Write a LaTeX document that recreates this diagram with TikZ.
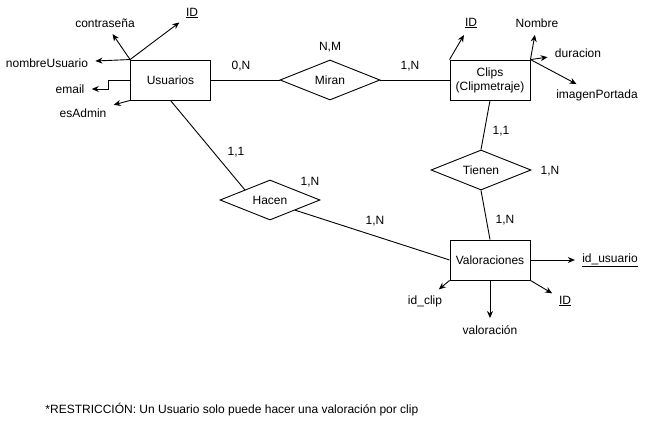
\documentclass[tikz,border=0pt]{standalone}
\usepackage{fontspec}
\setmainfont{Liberation Sans}
\usetikzlibrary{shapes.geometric,arrows.meta}

\begin{document}
\begin{tikzpicture}[x=1pt,y=-1pt,line width=0.9pt,
    font=\fontsize{12}{14}\selectfont,
    entity/.style={draw,minimum width=80pt,minimum height=40pt,inner sep=2pt,align=center},
    relation/.style={draw,diamond,minimum width=100pt,minimum height=40pt,inner sep=0pt,shape aspect=2.5},
    attr/.style={inner sep=3pt},
    card/.style={inner sep=1pt},
    toattr/.style={-{Stealth[length=7pt,width=6pt]},shorten >=4pt}]
  \useasboundingbox (0,0) rectangle (651,422);

  % entidades y relaciones
  \node[entity] (usuarios) at (170.5,80) {Usuarios};
  \node[entity] (clips) at (490,80) {Clips\\(Clipmetraje)};
  \node[entity] (valoraciones) at (490,260) {Valoraciones};
  \node[relation] (miran) at (330,80) {Miran};
  \node[relation] (tienen) at (481,170) {Tienen};
  \node[relation] (hacen) at (270,200) {Hacen};

  \draw (usuarios) -- (miran) -- (clips);
  \draw (clips.south) -- (tienen.north);
  \draw (tienen.south) -- (valoraciones.north);
  \draw (usuarios.south) -- (hacen.north west);
  \draw (hacen.south east) -- (valoraciones.west);

  % cardinalidades
  \node[card] (nm) at (330,47) {N,M};
  \node[card] (c0n) at (241,66) {0,N};
  \node[card] (c1n) at (410,66) {1,N};
  \node[card] (t11) at (501,131) {1,1};
  \node[card] (t1n) at (550,171) {1,N};
  \node[card] (t1nb) at (505,220) {1,N};
  \node[card] (h11) at (236,152) {1,1};
  \node[card] (h1n) at (310,182) {1,N};
  \node[card] (h1nb) at (375,221) {1,N};

  % atributos de Usuarios
  \node[attr] (idU) at (192,13) {\underline{ID}};
  \node[attr] (contrasena) at (105,23) {contraseña};
  \node[attr] (nombreUsuario) at (47,63) {nombreUsuario};
  \node[attr] (email) at (70,89) {email};
  \node[attr] (esAdmin) at (83,113) {esAdmin};
  \draw[toattr] (usuarios.north west) -- (idU);
  \draw[toattr] (usuarios.north west) -- (contrasena);
  \draw[toattr] (usuarios.north west) -- (nombreUsuario);
  \draw[toattr] (usuarios.west) -- ++(-22,0) |- (email);
  \draw[toattr] (usuarios.south west) -- (esAdmin);

  % atributos de Clips
  \node[attr] (idC) at (471,23) {\underline{ID}};
  \node[attr] (nombre) at (537,23) {Nombre};
  \node[attr] (duracion) at (578,53) {duracion};
  \node[attr] (imagenPortada) at (597,95) {imagenPortada};
  \draw[toattr] (clips.north west) -- (idC);
  \draw[toattr] (clips.north east) -- (nombre);
  \draw[toattr] (clips.north east) -- (duracion);
  \draw[toattr] (clips.north east) -- (imagenPortada);

  % atributos de Valoraciones
  \node[attr] (idUsuario) at (610,260) {\underline{id\_usuario}};
  \node[attr] (idClip) at (425,301) {id\_clip};
  \node[attr] (valoracion) at (490,330) {valoración};
  \node[attr] (idV) at (565,301) {\underline{ID}};
  \draw[toattr] (valoraciones.east) -- (idUsuario);
  \draw[toattr] (valoraciones.south west) -- (idClip);
  \draw[toattr] (valoraciones.south) -- (valoracion);
  \draw[toattr] (valoraciones.south east) -- (idV);

  \node[anchor=west,inner sep=0pt] (restriccion) at (45,410)
    {*RESTRICCIÓN: Un Usuario solo puede hacer una valoración por clip};
\end{tikzpicture}
\end{document}
